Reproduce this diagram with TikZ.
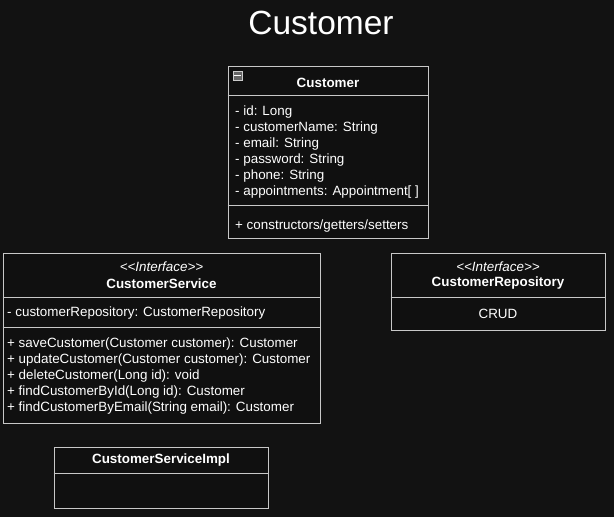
\documentclass[tikz,border=0pt]{standalone}
\usepackage{fontspec}
\setmainfont{Liberation Sans}
\usetikzlibrary{calc}
\definecolor{bg}{RGB}{18,18,18}
\definecolor{boxfill}{RGB}{16,16,16}
\definecolor{edge}{RGB}{200,200,200}
\tikzset{
  classbox/.style={draw=edge, fill=boxfill, line width=1pt, minimum width=#1, inner sep=0pt},
  txt/.style={text=white, inner sep=0pt, yshift=-1.5pt, font=\fontsize{13.4}{15}\selectfont},
  lt/.style={txt, anchor=west},
  ttl/.style={txt, font=\fontsize{13.4}{15}\selectfont\bfseries},
  stereo/.style={txt, font=\fontsize{13.4}{15}\selectfont\itshape},
  div/.style={draw=edge, line width=1pt}
}
\begin{document}
\begin{tikzpicture}[x=1pt,y=-1pt]
\fill[bg] (0,0) rectangle (614,517);
\useasboundingbox (0,0) rectangle (614,517);

% title
\node[txt, font=\fontsize{33.5}{38}\selectfont] (title) at (321,21) {Customer};

% Customer class
\node[classbox=200pt, minimum height=172pt] (cust) at (328,152) {};
\draw[div] (cust.west |- 0,95) -- (cust.east |- 0,95);
\draw[div] (cust.west |- 0,205) -- (cust.east |- 0,205);
\node[ttl] (custname) at (328,81) {Customer};
\node[draw=gray!40!white, fill=gray!80!black, minimum size=9pt, inner sep=0pt, line width=0.6pt] (icon) at (237.5,75.5) {};
\draw[white, line width=1pt] ($(icon.west)+(1.5pt,0)$) -- ($(icon.east)+(-1.5pt,0)$);
\node[lt] (c1) at (235,111) {- id: Long};
\node[lt] (c2) at (235,127) {- customerName: String};
\node[lt] (c3) at (235,143) {- email: String};
\node[lt] (c4) at (235,159) {- password: String};
\node[lt] (c5) at (235,175) {- phone: String};
\node[lt] (c6) at (235,191) {- appointments: Appointment[ ]};
\node[lt] (c7) at (235,225) {+ constructors/getters/setters};

% CustomerService
\node[classbox=317pt, minimum height=170pt] (svc) at (161.5,338) {};
\draw[div] (svc.west |- 0,297) -- (svc.east |- 0,297);
\draw[div] (svc.west |- 0,327) -- (svc.east |- 0,327);
\node[stereo] (svcst) at (161.5,265) {{<}{<}Interface{>}{>}};
\node[ttl] (svcname) at (161.5,282) {CustomerService};
\node[lt] (s0) at (7,312) {- customerRepository: CustomerRepository};
\node[lt] (s1) at (7,343) {+ saveCustomer(Customer customer): Customer};
\node[lt] (s2) at (7,359) {+ updateCustomer(Customer customer): Customer};
\node[lt] (s3) at (7,375) {+ deleteCustomer(Long id): void};
\node[lt] (s4) at (7,391) {+ findCustomerById(Long id): Customer};
\node[lt] (s5) at (7,407) {+ findCustomerByEmail(String email): Customer};

% CustomerRepository
\node[classbox=214pt, minimum height=77pt] (repo) at (498,291.5) {};
\draw[div] (repo.west |- 0,297) -- (repo.east |- 0,297);
\node[stereo] (repost) at (498,265) {{<}{<}Interface{>}{>}};
\node[ttl] (reponame) at (498,282) {CustomerRepository};
\node[txt] (crud) at (498,312) {CRUD};

% CustomerServiceImpl
\node[classbox=214pt, minimum height=61pt] (impl) at (161,477.5) {};
\draw[div] (impl.west |- 0,473) -- (impl.east |- 0,473);
\node[ttl] (implname) at (161,459) {CustomerServiceImpl};
\end{tikzpicture}
\end{document}
